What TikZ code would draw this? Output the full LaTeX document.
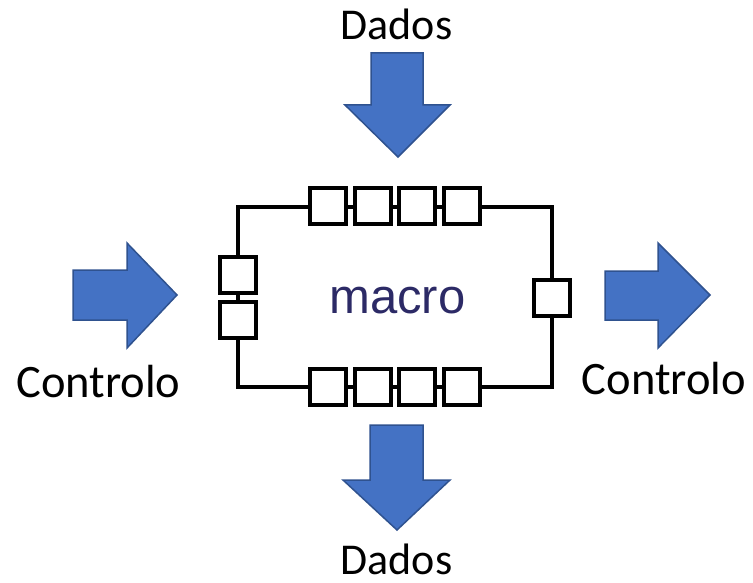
\documentclass[tikz,border=0pt]{standalone}
\usepackage{fontspec}
\setmainfont{Carlito}
\newfontfamily\arialf{Liberation Sans}
\definecolor{ablue}{HTML}{4472C4}
\definecolor{aedge}{HTML}{2F528F}
\definecolor{macrocol}{HTML}{2C2A66}
\begin{document}
\begin{tikzpicture}[x=1pt,y=-1pt,
  box/.style={draw=black,line width=4pt,fill=white,minimum size=36pt,inner sep=0pt,rectangle},
  wire/.style={draw=black,line width=4pt,line join=miter},
  bigarrow/.style={fill=ablue,draw=aedge,line width=1.5pt,line join=miter},
  lbl/.style={anchor=base,inner sep=0pt,text=black}]
\useasboundingbox (0,0) rectangle (753,583);
% frame wire
\coordinate (tl) at (238,207);
\coordinate (tr) at (552,207);
\coordinate (br) at (552,387);
\coordinate (bl) at (238,387);
\draw[wire] (tl) -- (tr) -- (br) -- (bl) -- cycle;
% top squares
\node[box] (t1) at (328,206) {};
\node[box] (t2) at (372.5,206) {};
\node[box] (t3) at (417,206) {};
\node[box] (t4) at (461.5,206) {};
% bottom squares
\node[box] (b1) at (327.5,387) {};
\node[box] (b2) at (372.5,387) {};
\node[box] (b3) at (417,387) {};
\node[box] (b4) at (462,387) {};
% left squares
\node[box] (l1) at (238,275) {};
\node[box] (l2) at (238,319.5) {};
% right square
\node[box] (r1) at (552,297.5) {};
% macro text
\node[anchor=base,inner sep=0pt,text=macrocol,font=\arialf\fontsize{49}{58}\selectfont] (macro) at (397.5,313) {macro};
% arrows
\draw[bigarrow] (371,53) -- (423,53) -- (423,105) -- (450,105) -- (398,157) -- (345,105) -- (371,105) -- cycle;
\draw[bigarrow] (370,425) -- (423,425) -- (423,480) -- (450,480) -- (397,530) -- (343,480) -- (370,480) -- cycle;
\draw[bigarrow] (73,270) -- (127,270) -- (127,243) -- (177,295) -- (127,348) -- (127,320) -- (73,320) -- cycle;
\draw[bigarrow] (605,271) -- (658,271) -- (658,243) -- (710,295) -- (658,348) -- (658,320) -- (605,320) -- cycle;
% labels
\node[lbl,font=\fontsize{44}{52}\selectfont] (dtop) at (396.5,40) {Dados};
\node[lbl,font=\fontsize{44}{52}\selectfont] (dbot) at (396.5,574) {Dados};
\node[lbl,font=\fontsize{46.5}{55}\selectfont] (cleft) at (98.5,397) {Controlo};
\node[lbl,font=\fontsize{46.5}{55}\selectfont] (cright) at (664,394) {Controlo};
\end{tikzpicture}
\end{document}
